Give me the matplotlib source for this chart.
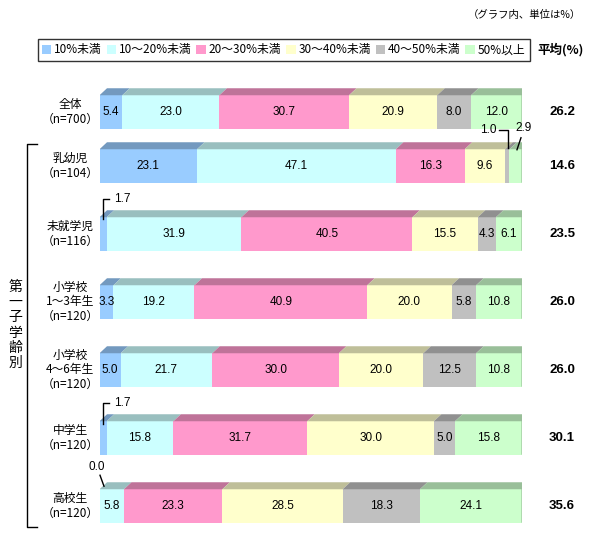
import matplotlib
matplotlib.use("Agg")
import matplotlib.pyplot as plt
import numpy as np
from matplotlib.patches import Patch, Polygon

plt.rcParams["font.family"] = ["Noto Sans CJK JP", "DejaVu Sans"]

# data (percent)
categories = ["全体", "乳幼児", "未就学児", "小学校\n1～3年生", "小学校\n4～6年生", "中学生", "高校生"]
sample_sizes = [700, 104, 116, 120, 120, 120, 120]
lt10 = [5.4, 23.1, 1.7, 3.3, 5.0, 1.7, 0.0]
r10_20 = [23.0, 47.1, 31.9, 19.2, 21.7, 15.8, 5.8]
r20_30 = [30.7, 16.3, 40.5, 40.9, 30.0, 31.7, 23.3]
r30_40 = [20.9, 9.6, 15.5, 20.0, 20.0, 30.0, 28.5]
r40_50 = [8.0, 1.0, 4.3, 5.8, 12.5, 5.0, 18.3]
ge50 = [12.0, 2.9, 6.1, 10.8, 10.8, 15.8, 24.1]
means = [26.2, 14.6, 23.5, 26.0, 26.0, 30.1, 35.6]
legend_labels = ["10%未満", "10～20%未満", "20～30%未満", "30～40%未満", "40～50%未満", "50%以上"]

colors = ["#99CCFF", "#CCFFFF", "#FF99CC", "#FFFFCC", "#C0C0C0", "#CCFFCC"]

W, H = 590, 545
X0, X1 = 99.5, 521.7
PX = 100.0 / (X1 - X0)      # percent per pixel
DX, DY = 7.5 * PX, 7.0      # 3d depth
BH = 33.5
centers = [112] + [166 + 68 * i for i in range(6)]


def shade(c, f):
    r, g, b = matplotlib.colors.to_rgb(c)
    return (r * f, g * f, b * f)


fig = plt.figure(figsize=(W / 100, H / 100), dpi=100)
ax = fig.add_axes([X0 / W, 0, (X1 - X0) / W, 1])
ax.set_xlim(0, 100)
ax.set_ylim(H, 0)
ax.axis("off")

table = np.array([lt10, r10_20, r20_30, r30_40, r40_50, ge50]).T
num_font = dict(family=["Liberation Sans", "DejaVu Sans"], fontsize=8.5)

for i, (vals, yc) in enumerate(zip(table, centers)):
    lefts = np.concatenate([[0], np.cumsum(vals)[:-1]])
    ax.barh(yc, vals, left=lefts, height=BH, color=colors, linewidth=0)
    yt, yb = yc - BH / 2, yc + BH / 2
    for l, v, c in zip(lefts, vals, colors):
        if v <= 0:
            continue
        ax.add_patch(Polygon([(l, yt), (l + v, yt), (l + v + DX, yt - DY), (l + DX, yt - DY)],
                             closed=True, facecolor=shade(c, 0.75), linewidth=0))
        if v >= 3:
            ax.text(l + v / 2, yc, f"{v:.1f}", ha="center", va="center", **num_font)
    end = lefts[-1] + vals[-1]
    ax.add_patch(Polygon([(end, yt), (end + DX, yt - DY), (end + DX, yb - DY), (end, yb)],
                         closed=True, facecolor=shade(colors[-1], 0.53), linewidth=0))

    ax.text((70 - X0) * PX, yc, f"{categories[i]}\n（n={sample_sizes[i]}）", ha="center",
            va="center", fontsize=8.5, linespacing=1.15, clip_on=False)
    ax.text((562 - X0) * PX, yc, f"{means[i]:.1f}", ha="center", va="center",
            family=["Liberation Sans", "DejaVu Sans"], fontsize=9.5, fontweight="bold", clip_on=False)

# callouts for thin segments: (row, segment, line offsets in px from segment centre / bar top, text offset, ha)
callouts = [
    (1, 4, [(0.4, -1.5), (0.4, -19.5), (-8.3, -19.5)], (-10.5, -19.5), "right"),
    (1, 5, [(1.4, 0.5), (5.4, -11.5)], (8.4, -21.5), "center"),
    (2, 0, [(0, 2), (0, -18.5), (6, -18.5)], (11, -18.5), "left"),
    (5, 0, [(0, 2.5), (0, -18), (6, -18)], (11, -18), "left"),
    (6, 0, [(0.5, -14), (4.5, -3)], (-2.5, -22), "center"),
]
for row, seg, pts, tpos, ha in callouts:
    vals = table[row]
    cx = vals[:seg].sum() + vals[seg] / 2
    yt = centers[row] - BH / 2
    xs = [cx + dx * PX for dx, dy in pts]
    ys = [yt + dy for dx, dy in pts]
    ax.plot(xs, ys, color="black", linewidth=1, clip_on=False)
    ax.text(cx + tpos[0] * PX, yt + tpos[1], f"{vals[seg]:.1f}", ha=ha, va="center", **num_font)

# bracket and group label
bx = (27 - X0) * PX
ax.plot([(37 - X0) * PX, bx, bx, (37 - X0) * PX], [144, 144, 527, 527], color="black",
        linewidth=1, clip_on=False)
ax.text((15.5 - X0) * PX, 325, "\n".join("第一子学齢別"), ha="center", va="center",
        fontsize=10, linespacing=1.1, clip_on=False)

handles = [Patch(facecolor=c, edgecolor="none") for c in colors]
leg = fig.legend(handles, legend_labels, loc="center",
                 bbox_to_anchor=(37.8 / W, 1 - 61 / H, (529.5 - 37.8) / W, 22 / H),
                 mode="expand", ncol=6, fontsize=8.5, handlelength=0.8, handleheight=0.8,
                 handletextpad=0.25, columnspacing=0.5, borderaxespad=0, borderpad=0.35,
                 frameon=True, fancybox=False, edgecolor="black")
leg.get_frame().set_linewidth(1.0)

fig.text(561 / W, 1 - 50 / H, "平均(%)", ha="center", va="center", fontsize=9, fontweight="bold")
fig.text(581 / W, 1 - 15 / H, "（グラフ内、単位は%）", ha="right", va="center", fontsize=7.5)

fig.savefig("out.png", dpi=100, facecolor="white")
